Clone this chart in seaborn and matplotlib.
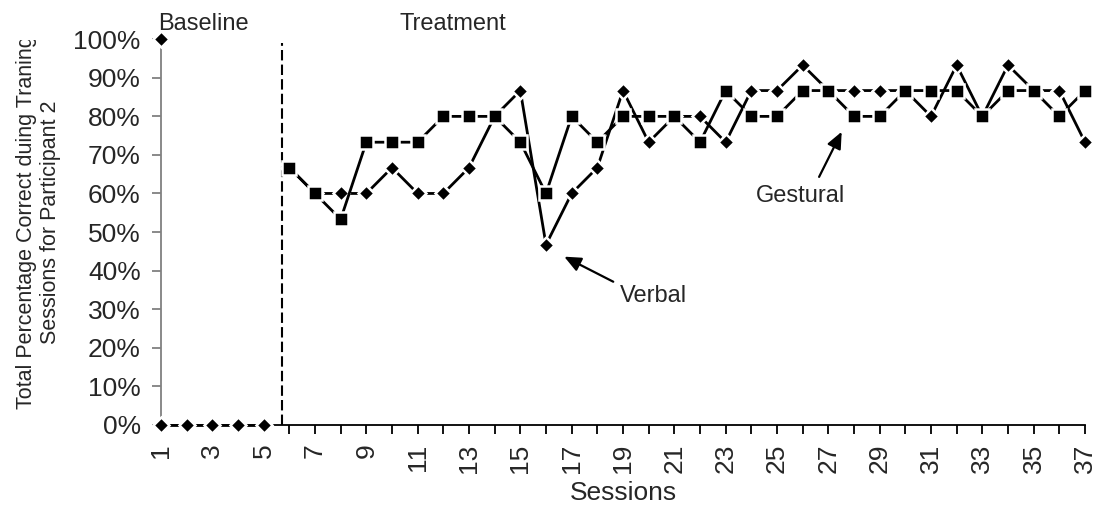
import matplotlib
matplotlib.use("Agg")
import numpy as np
import pandas as pd
import seaborn as sns
import matplotlib.pyplot as plt
from matplotlib.ticker import FixedLocator, FixedFormatter
from matplotlib.transforms import Bbox, TransformedBbox

# ---------------- data ----------------
baseline_sessions = [1, 2, 3, 4, 5]
verbal_baseline = [0, 0, 0, 0, 0]

treatment_sessions = list(range(6, 38))
verbal_treatment = [66.7, 60, 60, 60, 66.7, 60, 60, 66.7, 80, 86.7,
                    46.7, 60, 66.7, 86.7, 73.3, 80, 80, 73.3, 86.7, 86.7,
                    93.3, 86.7, 86.7, 86.7, 86.7, 80, 93.3, 80, 93.3, 86.7,
                    86.7, 73.3]
gestural_treatment = [66.7, 60, 53.3, 73.3, 73.3, 73.3, 80, 80, 80, 73.3,
                      60, 80, 73.3, 80, 80, 80, 73.3, 86.7, 80, 80,
                      86.7, 86.7, 80, 80, 86.7, 86.7, 86.7, 80, 86.7, 86.7,
                      80, 86.7]
extra_point_session = [1]
extra_point_value = [100]

session_ticks = list(range(1, 38))
session_tick_labels = [str(s) if s % 2 == 1 else "" for s in session_ticks]
pct_ticks = [0, 10, 20, 30, 40, 50, 60, 70, 80, 90, 100]
pct_tick_labels = [f"{v}%" for v in pct_ticks]

phase_change = 5.7
phase_labels = ["Baseline", "Treatment"]
series_labels = ["Verbal", "Gestural"]

# ---------------- style ----------------
sns.set_style("white")
plt.rcParams["font.family"] = ["Liberation Sans", "DejaVu Sans"]

fig = plt.figure(figsize=(10.96, 5.16), dpi=100)
ax = fig.add_axes([161 / 1096, (516 - 424.7) / 516, 924 / 1096, 385.4 / 516])

df_vb = pd.DataFrame({"session": baseline_sessions, "pct": verbal_baseline})
df_vt = pd.DataFrame({"session": treatment_sessions, "pct": verbal_treatment})
df_gt = pd.DataFrame({"session": treatment_sessions, "pct": gestural_treatment})
df_ex = pd.DataFrame({"session": extra_point_session, "pct": extra_point_value})

common = dict(color="black", lw=2, markeredgecolor="white", markeredgewidth=1.8,
              clip_on=False, ax=ax)
for df in (df_vb, df_vt, df_ex):
    sns.lineplot(data=df, x="session", y="pct", marker="D", markersize=8.3,
                 zorder=3, **common)
sns.lineplot(data=df_gt, x="session", y="pct", marker="s", markersize=9.8,
             zorder=4, **common)

# phase change line
ax.plot([phase_change, phase_change], [0, 99], color="black", lw=1.5,
        ls=(0, (5, 2)), clip_on=False, zorder=2)

ax.set_xlim(1, 37)
ax.set_ylim(0, 100)

ax.xaxis.set_major_locator(FixedLocator(session_ticks))
ax.xaxis.set_major_formatter(FixedFormatter(session_tick_labels))
ax.yaxis.set_major_locator(FixedLocator(pct_ticks))
ax.yaxis.set_major_formatter(FixedFormatter(pct_tick_labels))

for s in ("top", "right"):
    ax.spines[s].set_visible(False)
ax.spines["left"].set_color("#808080")
ax.spines["left"].set_linewidth(1.3)
ax.spines["bottom"].set_color("black")
ax.spines["bottom"].set_linewidth(1.3)

ax.tick_params(axis="y", direction="out", length=6.5, width=1.3, color="#808080",
               pad=8, labelsize=19, left=True)
ax.tick_params(axis="x", direction="out", length=6.5, width=1.3, color="black",
               pad=7, labelsize=19, labelrotation=90, bottom=True)

# labels
ax.set_xlabel("Sessions", fontsize=19)
ax.xaxis.set_label_coords(0.5, -0.145)
ax.xaxis.label.set_va("top")

ax.set_ylabel("Total Percentage Correct duing Traning\nSessions for Participant 2",
              fontsize=15.5, multialignment="center", linespacing=1.2)
ax.yaxis.set_label_coords(-0.108, 0.525)
ax.yaxis.label.set_clip_box(TransformedBbox(Bbox.from_extents(0, 0, 1, 476 / 516),
                                            fig.transFigure))
ax.yaxis.label.set_clip_on(True)

# phase titles
ax.text(0.88, 102.5, phase_labels[0], fontsize=17, ha="left", va="baseline",
        clip_on=False)
ax.text(10.31, 102.5, phase_labels[1], fontsize=17, ha="left", va="baseline",
        clip_on=False)

# annotations
arrow = dict(arrowstyle="-|>,head_length=0.5,head_width=0.22", color="black",
             lw=1.6, mutation_scale=20, shrinkA=0, shrinkB=0)
ax.annotate("", xy=(16.71, 43.6), xytext=(18.62, 37.1), arrowprops=arrow)
ax.text(18.88, 31.8, series_labels[0], fontsize=17, ha="left", va="baseline")
ax.annotate("", xy=(27.52, 76.0), xytext=(26.64, 64.3), arrowprops=arrow)
ax.text(25.9, 57.7, series_labels[1], fontsize=17, ha="center", va="baseline")

fig.savefig("out.png", dpi=100)
